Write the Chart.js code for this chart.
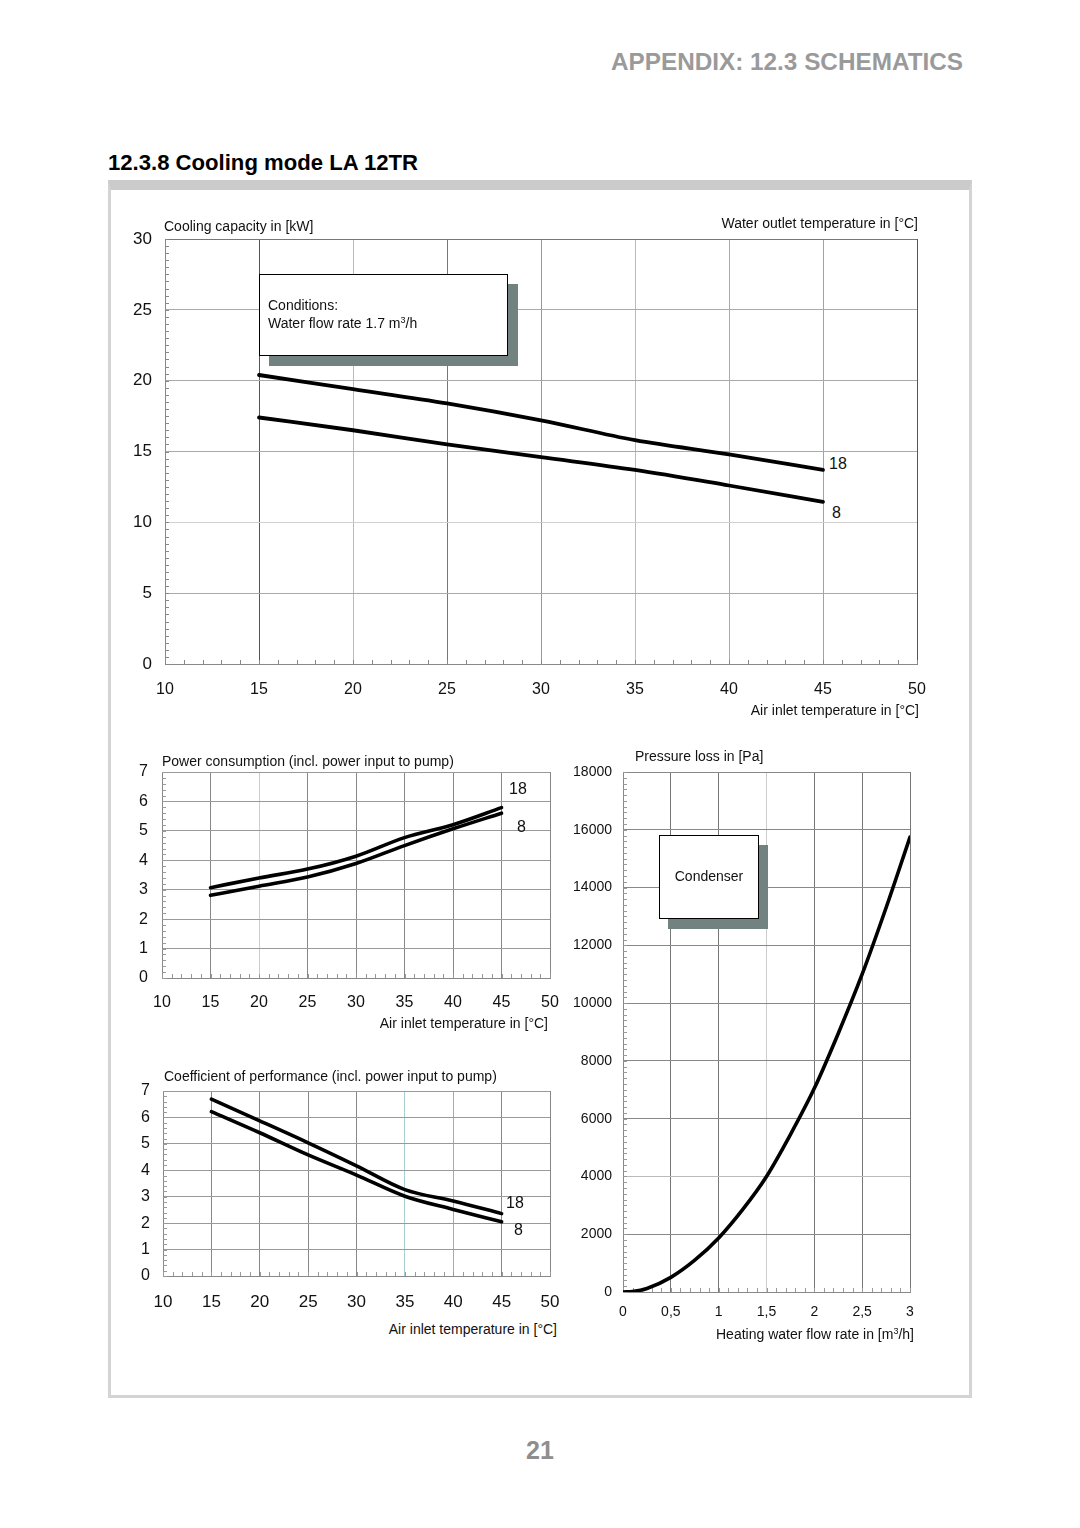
<!DOCTYPE html>
<html><head><meta charset="utf-8">
<script src="https://cdn.jsdelivr.net/npm/chart.js@4/dist/chart.umd.min.js"></script>
<style>
html,body{margin:0;padding:0;background:#fff}
body{width:1080px;height:1528px;position:relative;overflow:hidden;font-family:"Liberation Sans",Arial,sans-serif;color:#111}
canvas{position:absolute;z-index:1}
.t{position:absolute;white-space:nowrap;z-index:3;font-size:14px;line-height:16px}
.r{transform:translateX(-100%)}
.frame{position:absolute;left:108px;top:180px;width:858px;height:1205px;border:3px solid #d4d4d4;border-top:10px solid #cbcbcb;z-index:0}
.shadow{position:absolute;background:#718280;z-index:2}
.box{position:absolute;background:#fff;border:1.5px solid #000;box-sizing:border-box;z-index:2}
.lbl{position:absolute;font-size:16px;line-height:18px;background:#fff;z-index:3;padding:0 3px}
</style></head>
<body>
<div class="t" id="hdr" style="left:611px;top:48px;font-size:24px;line-height:28px;font-weight:bold;color:#9a9a9a;transform-origin:0 0">APPENDIX: 12.3 SCHEMATICS</div>
<div class="t" id="ttl" style="left:108px;top:149px;font-size:22px;line-height:28px;font-weight:bold;color:#000;transform-origin:0 0">12.3.8 Cooling mode LA 12TR</div>
<div class="frame"></div>

<canvas id="cCap"></canvas>
<canvas id="cPow"></canvas>
<canvas id="cCop"></canvas>
<canvas id="cPre"></canvas>

<!-- capacity chart texts -->
<div class="t" style="left:164px;top:218px">Cooling capacity in [kW]</div>
<div class="t r" style="left:918px;top:215px">Water outlet temperature in [°C]</div>
<div class="t r" style="left:919px;top:702px">Air inlet temperature in [°C]</div>
<div class="shadow" style="left:269px;top:284px;width:249px;height:82px"></div>
<div class="box" style="left:259px;top:274px;width:249px;height:82px"></div>
<div class="t" style="left:268px;top:297px">Conditions:</div>
<div class="t" style="left:268px;top:315px">Water flow rate 1.7 m<sup style="font-size:9px;vertical-align:5px;line-height:0">3</sup>/h</div>
<div class="lbl" style="left:826px;top:455px">18</div>
<div class="lbl" style="left:826px;top:504px;padding:0 12px 0 6px">8</div>

<!-- power chart texts -->
<div class="t" style="left:162px;top:753px">Power consumption (incl. power input to pump)</div>
<div class="t r" style="left:548px;top:1015px">Air inlet temperature in [°C]</div>
<div class="lbl" style="left:506px;top:780px;background:none">18</div>
<div class="lbl" style="left:514px;top:818px;background:none">8</div>

<!-- COP chart texts -->
<div class="t" style="left:164px;top:1068px">Coefficient of performance (incl. power input to pump)</div>
<div class="t r" style="left:557px;top:1321px">Air inlet temperature in [°C]</div>
<div class="lbl" style="left:503px;top:1194px;background:none">18</div>
<div class="lbl" style="left:511px;top:1221px;background:none">8</div>

<!-- pressure chart texts -->
<div class="t" style="left:635px;top:748px">Pressure loss in [Pa]</div>
<div class="t r" style="left:914px;top:1326px">Heating water flow rate in [m<sup style="font-size:9px;vertical-align:5px;line-height:0">3</sup>/h]</div>
<div class="shadow" style="left:668px;top:845px;width:100px;height:84px"></div>
<div class="box" style="left:659px;top:835px;width:100px;height:84px"></div>
<div class="t" style="left:659px;top:868px;width:100px;text-align:center">Condenser</div>

<div class="t" style="left:540px;top:1436px;font-size:25px;line-height:28px;font-weight:bold;color:#8e8e8e;transform:translateX(-50%)">21</div>

<script>
// ---------------- data ----------------
const airTemp = [15, 20, 25, 30, 35, 40, 45];
const capacity18 = [20.4, 19.4, 18.4, 17.2, 15.8, 14.8, 13.7];
const capacity8  = [17.4, 16.5, 15.5, 14.6, 13.7, 12.6, 11.45];
const power18 = [3.07, 3.40, 3.70, 4.14, 4.77, 5.21, 5.79];
const power8  = [2.81, 3.12, 3.43, 3.89, 4.50, 5.07, 5.60];
const cop18 = [6.69, 5.87, 5.04, 4.17, 3.27, 2.84, 2.36];
const cop8  = [6.22, 5.42, 4.58, 3.82, 3.02, 2.52, 2.05];
const flowRate = [0, 0.1, 0.25, 0.5, 0.75, 1, 1.25, 1.5, 1.75, 2, 2.25, 2.5, 2.75, 3];
const pressureLoss = [0, 15, 120, 505, 1100, 1870, 2850, 4000, 5450, 7050, 8950, 11000, 13300, 15750];
const airTicks = ['10', '15', '20', '25', '30', '35', '40', '45', '50'];
const capacityTicks = ['0', '5', '10', '15', '20', '25', '30'];
const unitTicks = ['0', '1', '2', '3', '4', '5', '6', '7'];
const pressureTicks = ['0', '2000', '4000', '6000', '8000', '10000', '12000', '14000', '16000', '18000'];
const flowTicks = ['0', '0,5', '1', '1,5', '2', '2,5', '3'];

// ---------------- rendering ----------------
const FONT = '"Liberation Sans", Arial, sans-serif';

const minorTicks = {
  id: 'minorTicks',
  beforeDatasetsDraw(chart, args, o) {
    if (!o || !o.xStep) return;
    const {ctx, chartArea: a, scales: {x, y}} = chart;
    ctx.save();
    ctx.strokeStyle = o.color || '#777';
    ctx.lineWidth = 1;
    ctx.beginPath();
    for (let v = x.min; v <= x.max + 1e-9; v += o.xStep) {
      const p = Math.round(x.getPixelForValue(v)) + 0.5;
      ctx.moveTo(p, a.bottom); ctx.lineTo(p, a.bottom - o.len);
    }
    for (let v = y.min; v <= y.max + 1e-9; v += o.yStep) {
      const p = Math.round(y.getPixelForValue(v)) + 0.5;
      ctx.moveTo(a.left, p); ctx.lineTo(a.left + o.len, p);
    }
    ctx.stroke();
    ctx.restore();
  }
};

function zeroPad(s) { s.paddingTop = 0; s.paddingBottom = 0; s.paddingLeft = 0; s.paddingRight = 0; }

function makeChart(id, L, T, W, H, plot, cfg) {
  const cv = document.getElementById(id);
  cv.width = W; cv.height = H;
  cv.style.left = L + 'px'; cv.style.top = T + 'px';
  cv.style.width = W + 'px'; cv.style.height = H + 'px';
  const yW = plot.left - L, xH = T + H - plot.bottom;
  const gridFn = (map, def) => (c) => (c.tick && map[c.tick.value] !== undefined) ? map[c.tick.value] : def;
  return new Chart(cv, {
    type: 'line',
    data: {
      datasets: cfg.series.map(s => ({
        data: s.x.map((xv, i) => ({x: xv, y: s.y[i]})),
        borderColor: '#000', borderWidth: cfg.lw || 3.8,
        pointRadius: 0, cubicInterpolationMode: 'monotone', fill: false,
        borderCapStyle: 'round'
      }))
    },
    options: {
      responsive: false, animation: false, devicePixelRatio: 1,
      layout: {padding: {top: plot.top - T, right: L + W - plot.right, left: 0, bottom: 0}},
      plugins: {legend: {display: false}, tooltip: {enabled: false}, minorTicks: cfg.minor},
      scales: {
        x: {
          type: 'linear', min: cfg.x.min, max: cfg.x.max,
          ticks: {stepSize: cfg.x.step, padding: cfg.x.pad, color: '#111', maxRotation: 0, autoSkip: false,
                  font: {size: cfg.x.size, family: FONT},
                  callback: (v) => cfg.x.labels[Math.round((v - cfg.x.min) / cfg.x.step)]},
          grid: {drawTicks: false, lineWidth: 1, color: gridFn(cfg.x.grid || {}, cfg.x.gridDef || '#999')},
          border: {color: cfg.x.border || '#888', width: 1},
          afterFit(s) { s.height = xH; zeroPad(s); }
        },
        y: {
          type: 'linear', min: cfg.y.min, max: cfg.y.max,
          ticks: {stepSize: cfg.y.step, padding: cfg.y.pad, color: '#111', autoSkip: false,
                  font: {size: cfg.y.size, family: FONT},
                  callback: (v) => cfg.y.labels[Math.round((v - cfg.y.min) / cfg.y.step)]},
          grid: {drawTicks: false, lineWidth: 1, color: gridFn(cfg.y.grid || {}, cfg.y.gridDef || '#999')},
          border: {color: cfg.y.border || '#888', width: 1},
          afterFit(s) { s.width = yW; zeroPad(s); }
        }
      }
    },
    plugins: [minorTicks]
  });
}

// Cooling capacity
makeChart('cCap', 110, 225, 840, 480, {left: 165, top: 239, right: 917, bottom: 664}, {
  series: [{x: airTemp, y: capacity18}, {x: airTemp, y: capacity8}],
  x: {min: 10, max: 50, step: 5, pad: 16, size: 16, labels: airTicks,
      grid: {15: '#555', 20: '#bbb', 25: '#777', 30: '#999', 35: '#bbb', 40: '#9ab0b4', 45: '#8fa9ad', 50: '#555'}},
  y: {min: 0, max: 30, step: 5, pad: 13, size: 17, labels: capacityTicks,
      grid: {10: '#d0d0d0', 30: '#777'}, gridDef: '#aaa'},
  minor: {xStep: 1, yStep: 0.5, len: 4, color: '#888'}
});

// Power consumption
makeChart('cPow', 112, 760, 450, 260, {left: 162, top: 772, right: 550, bottom: 978}, {
  series: [{x: airTemp, y: power18}, {x: airTemp, y: power8}],
  lw: 3.6,
  x: {min: 10, max: 50, step: 5, pad: 15, size: 16, labels: airTicks,
      grid: {20: '#ccc', 50: '#888'}, gridDef: '#888'},
  y: {min: 0, max: 7, step: 1, pad: 14, size: 16, labels: unitTicks, gridDef: '#999'},
  minor: {xStep: 1, yStep: 0.2, len: 4, color: '#999'}
});

// COP
makeChart('cCop', 112, 1078, 450, 240, {left: 163, top: 1091, right: 550, bottom: 1276}, {
  series: [{x: airTemp, y: cop18}, {x: airTemp, y: cop8}],
  lw: 3.6,
  x: {min: 10, max: 50, step: 5, pad: 16, size: 17, labels: airTicks,
      grid: {35: '#a8d0d0', 40: '#aaa'}, gridDef: '#888'},
  y: {min: 0, max: 7, step: 1, pad: 13, size: 16, labels: unitTicks, gridDef: '#999'},
  minor: {xStep: 1, yStep: 0.2, len: 4, color: '#999'}
});

// Pressure loss
makeChart('cPre', 565, 758, 360, 570, {left: 623, top: 772, right: 910, bottom: 1292}, {
  series: [{x: flowRate, y: pressureLoss}],
  lw: 3.6,
  x: {min: 0, max: 3, step: 0.5, pad: 12, size: 14, labels: flowTicks,
      grid: {1.5: '#ccc'}, gridDef: '#777'},
  y: {min: 0, max: 18000, step: 2000, pad: 11, size: 14, labels: pressureTicks,
      grid: {4000: '#bbb'}, gridDef: '#888'},
  minor: {xStep: 0.1, yStep: 200, len: 4, color: '#999'}
});

// fit header widths to the reference
function fitWidth(id, w) {
  const el = document.getElementById(id);
  const cur = el.getBoundingClientRect().width;
  el.style.transform = 'scaleX(' + (w / cur) + ')';
}
fitWidth('hdr', 352);
fitWidth('ttl', 310);
</script>
</body></html>
